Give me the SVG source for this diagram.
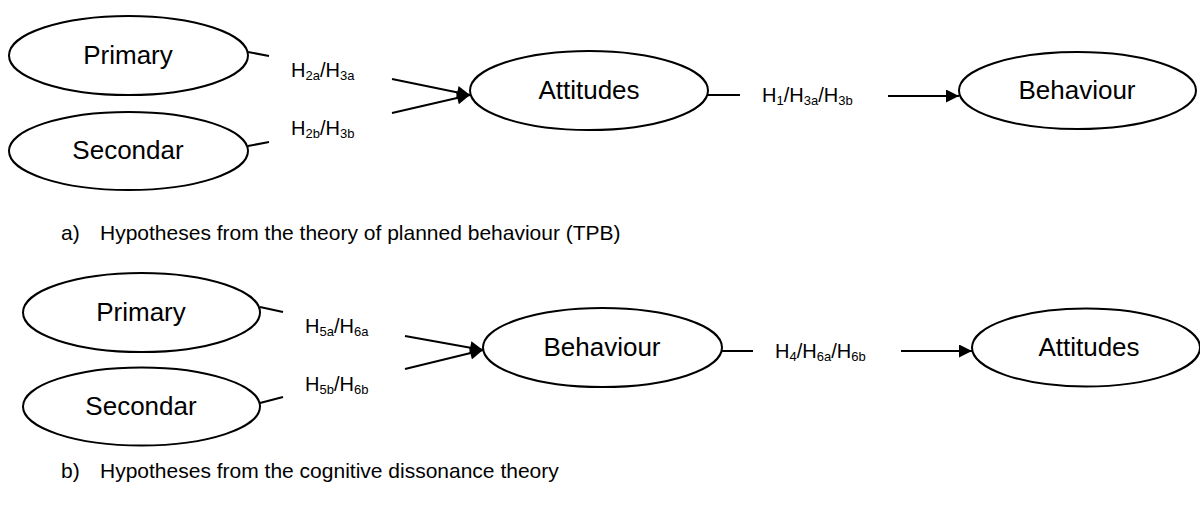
<svg xmlns="http://www.w3.org/2000/svg" width="1200" height="505" viewBox="0 0 1200 505">
<style>
.node ellipse{fill:#fff;stroke:#000;stroke-width:2}
.nt{font-family:"Liberation Sans",Arial,sans-serif;font-size:26px;fill:#000;text-anchor:middle}
.lbl{font-family:"Liberation Sans",Arial,sans-serif;font-size:20px;fill:#000}
.sub{font-size:13px}
.cap{font-family:"Liberation Sans",Arial,sans-serif;font-size:21px;fill:#000}
.conn line{stroke:#000;stroke-width:2}
</style>
<defs>
<marker id="ah" viewBox="0 0 10 10" refX="10" refY="5" markerWidth="7" markerHeight="6.5" markerUnits="strokeWidth" orient="auto">
<path d="M0,0 L10,5 L0,10 z" fill="#000"/>
</marker>
</defs>
<rect width="1200" height="505" fill="#fff"/>

<g id="a-primary" class="node"><ellipse cx="128.5" cy="55.5" rx="119.5" ry="39.5"/><text class="nt" x="128" y="64">Primary</text></g>
<g id="a-secondar" class="node"><ellipse cx="128.5" cy="151" rx="119.5" ry="39"/><text class="nt" x="128" y="159">Secondar</text></g>
<g id="a-attitudes" class="node"><ellipse cx="589" cy="90.5" rx="119" ry="39.5"/><text class="nt" x="589" y="99">Attitudes</text></g>
<g id="a-behaviour" class="node"><ellipse cx="1077.5" cy="90.5" rx="118.5" ry="38.5"/><text class="nt" x="1077" y="99">Behaviour</text></g>

<g id="b-primary" class="node"><ellipse cx="141.5" cy="312.5" rx="118.5" ry="39.5"/><text class="nt" x="141" y="321">Primary</text></g>
<g id="b-secondar" class="node"><ellipse cx="141.5" cy="406.5" rx="118.5" ry="39"/><text class="nt" x="141" y="415">Secondar</text></g>
<g id="b-behaviour" class="node"><ellipse cx="602.5" cy="347.5" rx="119.5" ry="39.5"/><text class="nt" x="602" y="356">Behaviour</text></g>
<g id="b-attitudes" class="node"><ellipse cx="1086" cy="347.5" rx="114" ry="39"/><text class="nt" x="1089" y="356">Attitudes</text></g>

<g id="connectors" class="conn">
<line x1="248" y1="52" x2="269" y2="56"/>
<line x1="248" y1="146" x2="269" y2="142"/>
<line x1="392" y1="79" x2="470" y2="95" marker-end="url(#ah)"/>
<line x1="392" y1="113" x2="470" y2="95" marker-end="url(#ah)"/>
<line x1="708" y1="95" x2="740" y2="95"/>
<line x1="888" y1="96" x2="959" y2="96" marker-end="url(#ah)"/>

<line x1="260" y1="307" x2="283" y2="312"/>
<line x1="260" y1="403" x2="283" y2="397"/>
<line x1="405" y1="336" x2="483" y2="350" marker-end="url(#ah)"/>
<line x1="405" y1="369" x2="483" y2="350" marker-end="url(#ah)"/>
<line x1="722" y1="351" x2="753" y2="351"/>
<line x1="901" y1="351" x2="972" y2="351" marker-end="url(#ah)"/>
</g>

<g id="labels">
<text class="lbl" x="291" y="77">H<tspan class="sub" dy="3">2a</tspan><tspan dy="-3">/H</tspan><tspan class="sub" dy="3">3a</tspan></text>
<text class="lbl" x="291" y="135">H<tspan class="sub" dy="3">2b</tspan><tspan dy="-3">/H</tspan><tspan class="sub" dy="3">3b</tspan></text>
<text class="lbl" x="762" y="102">H<tspan class="sub" dy="3">1</tspan><tspan dy="-3">/H</tspan><tspan class="sub" dy="3">3a</tspan><tspan dy="-3">/H</tspan><tspan class="sub" dy="3">3b</tspan></text>
<text class="lbl" x="305" y="333">H<tspan class="sub" dy="3">5a</tspan><tspan dy="-3">/H</tspan><tspan class="sub" dy="3">6a</tspan></text>
<text class="lbl" x="305" y="391">H<tspan class="sub" dy="3">5b</tspan><tspan dy="-3">/H</tspan><tspan class="sub" dy="3">6b</tspan></text>
<text class="lbl" x="775" y="358">H<tspan class="sub" dy="3">4</tspan><tspan dy="-3">/H</tspan><tspan class="sub" dy="3">6a</tspan><tspan dy="-3">/H</tspan><tspan class="sub" dy="3">6b</tspan></text>
</g>

<g id="captions">
<text class="cap" x="61" y="240">a)</text>
<text class="cap" x="100" y="240">Hypotheses from the theory of planned behaviour (TPB)</text>
<text class="cap" x="61" y="478">b)</text>
<text class="cap" x="100" y="478">Hypotheses from the cognitive dissonance theory</text>
</g>
</svg>
